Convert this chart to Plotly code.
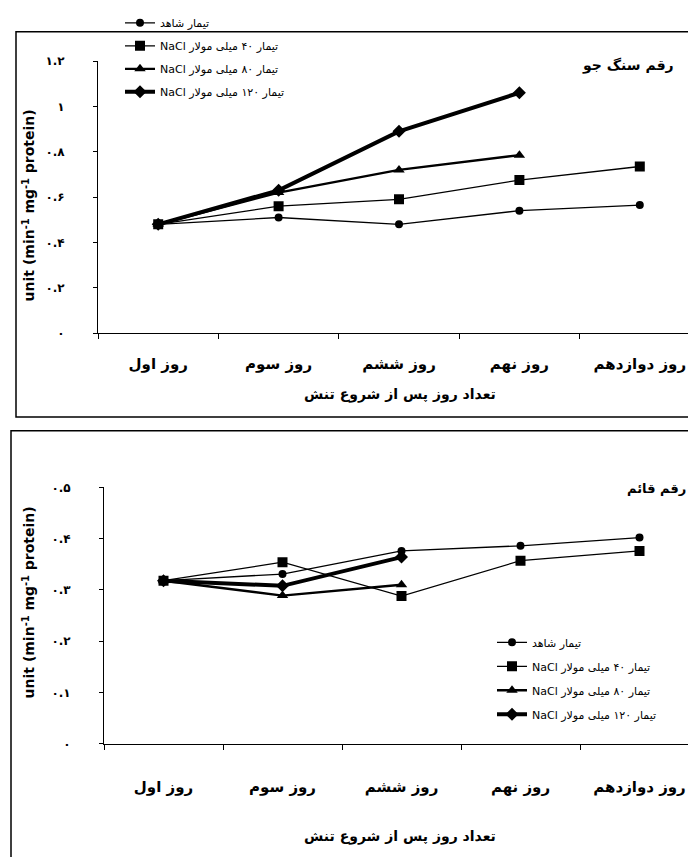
import plotly.graph_objects as go

days = ["روز اول", "روز سوم", "روز ششم", "روز نهم", "روز دوازدهم"]
series_top_names = ["تیمار شاهد", "تیمار ۴۰ میلی مولار NaCl", "تیمار ۸۰ میلی مولار NaCl", "تیمار ۱۲۰ میلی مولار NaCl"]
series_bot_names = ["تیمار شاهد", "تیمار ۴۰ میلی مولار NaCl", "تیمار ۸۰ میلی مولار NaCl", "تیمار ۱۲۰ میلی مولار NaCl"]

# Top panel: cultivar Sang-e Jo
top_control = [0.48, 0.51, 0.48, 0.54, 0.565]
top_40 = [0.48, 0.56, 0.59, 0.675, 0.735]
top_80 = [0.48, 0.62, 0.72, 0.785, None]
top_120 = [0.48, 0.63, 0.89, 1.06, None]

# Bottom panel: cultivar Ghaem
bot_control = [0.318, 0.331, 0.376, 0.386, 0.402]
bot_40 = [0.318, 0.354, 0.288, 0.357, 0.376]
bot_80 = [0.318, 0.289, 0.31, None, None]
bot_120 = [0.318, 0.308, 0.364, None, None]

top_ticks = [0, 0.2, 0.4, 0.6, 0.8, 1.0, 1.2]
top_ticktext = ["۰", "۰.۲", "۰.۴", "۰.۶", "۰.۸", "۱", "۱.۲"]
bot_ticks = [0, 0.1, 0.2, 0.3, 0.4, 0.5]
bot_ticktext = ["۰", "۰.۱", "۰.۲", "۰.۳", "۰.۴", "۰.۵"]

W, H = 696, 857
FONT = "DejaVu Sans"

def px_x(p):
    return p / W

def px_y(p):
    return 1 - p / H

def rtl(s):
    return "\u202b" + s + "\u202c"

styles = [
    dict(symbol="circle", size=8, width=1.3),
    dict(symbol="square", size=10, width=1.3),
    dict(symbol="triangle-up", size=10, width=2.4),
    dict(symbol="diamond", size=10, width=4),
]

fig = go.Figure()

top_vals = [top_control, top_40, top_80, top_120]
bot_vals = [bot_control, bot_40, bot_80, bot_120]

for i, (name, vals) in enumerate(zip(series_top_names, top_vals)):
    st = styles[i]
    fig.add_trace(go.Scatter(
        x=days, y=vals, name=rtl(name), mode="lines+markers",
        line=dict(color="black", width=st["width"]),
        marker=dict(symbol=st["symbol"], size=st["size"], color="black"),
        xaxis="x", yaxis="y", legend="legend", legendgroup="t%d" % i,
        connectgaps=False,
    ))

for i, (name, vals) in enumerate(zip(series_bot_names, bot_vals)):
    st = styles[i]
    fig.add_trace(go.Scatter(
        x=days, y=vals, name=rtl(name), mode="lines+markers",
        line=dict(color="black", width=st["width"]),
        marker=dict(symbol=st["symbol"], size=st["size"], color="black"),
        xaxis="x2", yaxis="y2", legend="legend2", legendgroup="b%d" % i,
        connectgaps=False,
    ))

axis_font = dict(family=FONT, size=15, color="black", weight="bold")
ytick_font = dict(family=FONT, size=12, color="black", weight="bold")

common_x = dict(
    type="category", tickson="boundaries", ticks="outside", ticklen=5,
    tickcolor="black", showline=True, linecolor="black", linewidth=1,
    showgrid=False, zeroline=False, tickfont=axis_font,
    range=[-0.5, 4.5], fixedrange=True,
)
common_y = dict(
    ticks="outside", ticklen=4, tickcolor="black", showline=True,
    linecolor="black", linewidth=1, showgrid=False, zeroline=False,
    tickfont=ytick_font, tickmode="array", fixedrange=True,
)

fig.update_layout(
    width=W, height=H,
    margin=dict(l=0, r=0, t=0, b=0),
    paper_bgcolor="white", plot_bgcolor="white",
    font=dict(family=FONT, color="black"),
    xaxis=dict(common_x, domain=[px_x(90), px_x(692)], anchor="y", ticklabelstandoff=17),
    yaxis=dict(common_y, domain=[px_y(319), px_y(40)], anchor="x", range=[0, 1.2],
               tickvals=top_ticks, ticktext=top_ticktext, ticklabelstandoff=26),
    xaxis2=dict(common_x, domain=[px_x(96), px_x(691)], anchor="y2", ticklabelstandoff=29),
    yaxis2=dict(common_y, domain=[px_y(740), px_y(477)], anchor="x2", range=[0, 0.5],
                tickvals=bot_ticks, ticktext=bot_ticktext, ticklabelstandoff=26),
    legend=dict(x=px_x(112), y=px_y(-14), xanchor="left", yanchor="top",
                bgcolor="rgba(0,0,0,0)", font=dict(family=FONT, size=11, color="black"),
                tracegroupgap=4, itemwidth=30),
    legend2=dict(x=px_x(484), y=px_y(621), xanchor="left", yanchor="top",
                 bgcolor="rgba(0,0,0,0)", font=dict(family=FONT, size=11, color="black"),
                 tracegroupgap=5, itemwidth=30),
    showlegend=True,
)

ttl_font = dict(family=FONT, size=14, color="black", weight="bold")
yt_font = dict(family=FONT, size=14, color="black", weight="bold")
annotations = [
    dict(text="تعداد روز پس از شروع تنش", x=px_x(392), y=px_y(382), xref="paper", yref="paper",
         xanchor="center", yanchor="middle", showarrow=False, font=ttl_font),
    dict(text="تعداد روز پس از شروع تنش", x=px_x(392), y=px_y(835), xref="paper", yref="paper",
         xanchor="center", yanchor="middle", showarrow=False, font=ttl_font),
    dict(text="unit (min<sup>-1</sup> mg<sup>-1</sup> protein)", x=px_x(21), y=px_y(188),
         xref="paper", yref="paper", xanchor="center", yanchor="middle",
         showarrow=False, textangle=-90, font=yt_font),
    dict(text="unit (min<sup>-1</sup> mg<sup>-1</sup> protein)", x=px_x(21), y=px_y(595),
         xref="paper", yref="paper", xanchor="center", yanchor="middle",
         showarrow=False, textangle=-90, font=yt_font),
    dict(text="رقم سنگ جو", x=px_x(668), y=px_y(45), xref="paper", yref="paper",
         xanchor="right", yanchor="middle", showarrow=False,
         font=dict(family=FONT, size=14, color="black", weight="bold")),
    dict(text="رقم قائم", x=px_x(680), y=px_y(478), xref="paper", yref="paper",
         xanchor="right", yanchor="middle", showarrow=False,
         font=dict(family=FONT, size=13, color="black", weight="bold")),
]
fig.update_layout(annotations=annotations)

shapes = [
    dict(type="rect", xref="paper", yref="paper", x0=px_x(8), x1=px_x(720),
         y0=px_y(405), y1=px_y(10), line=dict(color="black", width=1.5)),
    dict(type="rect", xref="paper", yref="paper", x0=px_x(3), x1=px_x(720),
         y0=px_y(880), y1=px_y(419), line=dict(color="black", width=1.5)),
]
fig.update_layout(shapes=shapes)

fig.write_html("out.html")
